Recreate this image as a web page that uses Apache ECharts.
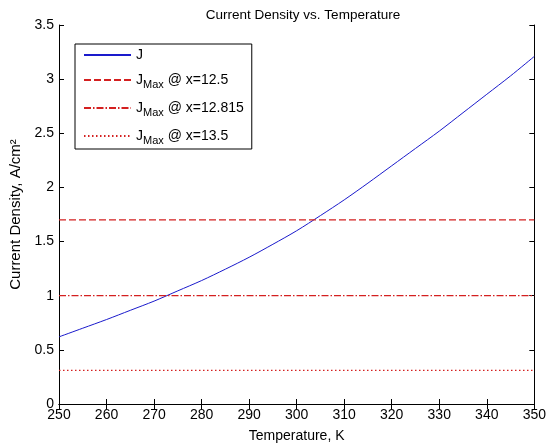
<!DOCTYPE html>
<html><head><meta charset="utf-8">
<script src="https://cdn.jsdelivr.net/npm/echarts@6/dist/echarts.min.js"></script>
<style>html,body{margin:0;padding:0;background:#fff}#c{width:549px;height:448px}</style>
</head><body><div id="c"></div>
<script>
var temperatures = [250,255,260,265,270,275,280,285,290,295,300,305,310,315,320,325,330,335,340,345,350];
var currentDensity = [0.62,0.70,0.78,0.865,0.95,1.045,1.14,1.245,1.355,1.475,1.60,1.74,1.885,2.04,2.20,2.36,2.52,2.69,2.86,3.03,3.21];
var jmaxLabels = ['J_Max @ x=12.5','J_Max @ x=12.815','J_Max @ x=13.5'];
var jmaxValues = [1.7, 1.0, 0.31];
var xTicks = [250,260,270,280,290,300,310,320,330,340,350];
var yTicks = [0,0.5,1,1.5,2,2.5,3,3.5];

var FONT = 'Liberation Sans, Arial, sans-serif';
var chart = echarts.init(document.getElementById('c'));
var tMin = temperatures[0], tMax = temperatures[temperatures.length-1];
var dashArr = [[7,3],[7,2,1.5,2],[1.5,2.5]];

var series = [{
  name: 'J', type: 'line', symbol: 'none', smooth: 0.3,
  data: temperatures.map(function(t,i){return [t,currentDensity[i]];}),
  lineStyle: {color:'#1a1acc', width:1}, itemStyle:{color:'#1a1acc'}
}];
jmaxLabels.forEach(function(lbl,i){
  series.push({
    name: lbl, type:'line', symbol:'none',
    data: [[tMin,jmaxValues[i]],[tMax,jmaxValues[i]]],
    lineStyle:{color:'#d42020', width:1.2, type: dashArr[i]},
    itemStyle:{color:'#d42020'}
  });
});

function axisCommon(show){
  return {
    axisLine:{show:true,lineStyle:{color:'#000',width:1}},
    axisTick:{show:true,inside:true,length:5,lineStyle:{color:'#000'}},
    splitLine:{show:false},
    axisLabel:{show:show,color:'#000',fontFamily:FONT,fontSize:14}
  };
}

var option = {
  backgroundColor:'#fff',
  animation:false,
  title:{text:'Current Density vs. Temperature',left:298,textAlign:'center',top:3,
    textStyle:{fontFamily:FONT,fontSize:13.5,fontWeight:'normal',color:'#000'}},
  grid:{left:59,right:12,top:25,bottom:41,containLabel:false},
  legend:{
    orient:'vertical', left:75, top:44,
    backgroundColor:'#fff', borderColor:'#000', borderWidth:1,
    padding:[4,8,3,8], itemWidth:47, itemHeight:14, itemGap:11,
    itemStyle:{opacity:0},
    data: ['J'].concat(jmaxLabels),
    formatter:function(name){
      var m = name.match(/^J_Max( @ .*)$/);
      if(m) return '{j|J}{sub|Max}{t|'+m[1]+'}';
      return '{j|'+name+'}';
    },
    textStyle:{fontFamily:FONT,fontSize:14,color:'#000',
      rich:{j:{fontFamily:FONT,fontSize:14,color:'#000'},
            sub:{fontFamily:FONT,fontSize:11,color:'#000',verticalAlign:'bottom',padding:[9,0,0,0]},
            t:{fontFamily:FONT,fontSize:14,color:'#000'}}}
  },
  xAxis:[
    Object.assign({type:'value',min:250,max:350,interval:10,position:'bottom',
      name:'Temperature, K',nameLocation:'middle',nameGap:25,
      nameTextStyle:{fontFamily:FONT,fontSize:14,color:'#000'}}, axisCommon(true),
      {axisLabel:{color:'#000',fontFamily:FONT,fontSize:14,margin:4}}),
    Object.assign({type:'value',min:250,max:350,interval:10,position:'top'}, axisCommon(false))
  ],
  yAxis:[
    Object.assign({type:'value',min:0,max:3.5,interval:0.5,position:'left',
      name:'Current Density, A/cm²',nameLocation:'middle',nameGap:30,
      nameTextStyle:{fontFamily:FONT,fontSize:15,color:'#000'}}, axisCommon(true),
      {axisLabel:{color:'#000',fontFamily:FONT,fontSize:14,margin:5,
        formatter:function(v){return String(v);}}}),
    Object.assign({type:'value',min:0,max:3.5,interval:0.5,position:'right'}, axisCommon(false))
  ],
  series: series
};
chart.setOption(option);
</script></body></html>
